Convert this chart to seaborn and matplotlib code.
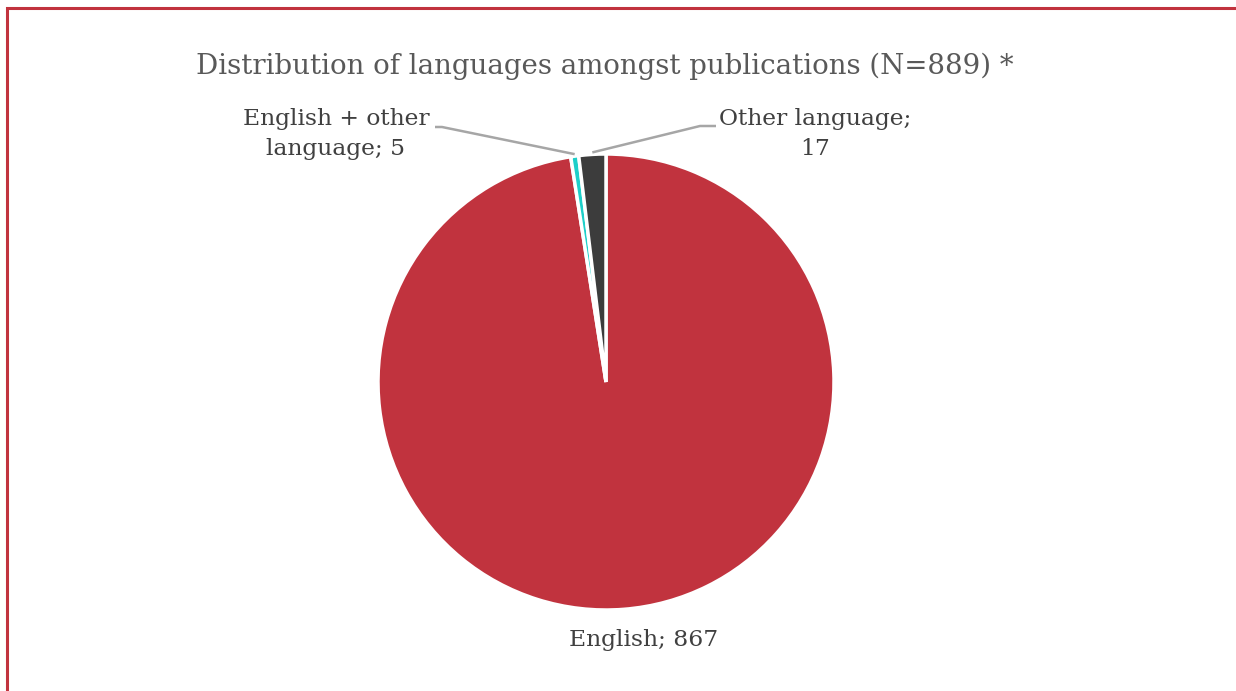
import numpy as np
import matplotlib
matplotlib.use("Agg")
import matplotlib.pyplot as plt
import seaborn as sns
from matplotlib.patches import Rectangle

sns.set_theme(style="white")
plt.rcParams['font.family'] = ['DejaVu Serif']

# Data
categories = ["English", "English + other language", "Other language"]
label_text = ["English; 867", "English + other\nlanguage; 5", "Other language;\n17"]
counts = [867, 5, 17]
colors = ["#C1333E", "#1ECFC9", "#3C3C3C"]
title = "Distribution of languages amongst publications (N=889) *"

W, H = 1236, 691
fig = plt.figure(figsize=(W / 100, H / 100), dpi=100)
ax = fig.add_axes([0, 0, 1, 1])

cx, cy, r = 606, H - 382, 228
wedges, _ = ax.pie(counts, colors=colors, startangle=90, counterclock=False,
                   center=(cx, cy), radius=r, frame=True,
                   wedgeprops=dict(edgecolor="white", linewidth=2.5))
ax.set_xlim(0, W)
ax.set_ylim(0, H)
ax.axis("off")

# frame border
fig.patches.append(Rectangle((7 / W, -0.1), 1.2, (H - 8) / H + 0.1, transform=fig.transFigure,
                             fill=False, edgecolor="#C1333E", linewidth=2.2))

txt_color = "#404040"
ax.text(605, H - 66, title, ha="center", va="center", fontsize=19.9, color="#595959")

def edge_point(w, frac=1.0):
    ang = np.deg2rad((w.theta1 + w.theta2) / 2)
    return cx + r * frac * np.cos(ang), cy + r * frac * np.sin(ang)

lab_fs = 16.8
# English label
ax.text(644, H - 640, label_text[0], ha="center", va="center", fontsize=lab_fs, color=txt_color)

# English + other
ax.text(336, H - 134, label_text[1], ha="center", va="center", fontsize=lab_fs, color=txt_color, linespacing=1.5)
px, py = edge_point(wedges[1], 1.0)
ax.plot([435, 442, px], [H - 127, H - 127, py + 2], color="#A6A6A6", lw=1.8, solid_capstyle="butt")

# Other language
ax.text(815, H - 134, label_text[2], ha="center", va="center", fontsize=lab_fs, color=txt_color, linespacing=1.5)
px, py = edge_point(wedges[2], 1.0)
ax.plot([px, 700, 716], [py + 2, H - 126, H - 126], color="#A6A6A6", lw=1.8, solid_capstyle="butt")

fig.savefig("out.png", dpi=100, facecolor="white")
